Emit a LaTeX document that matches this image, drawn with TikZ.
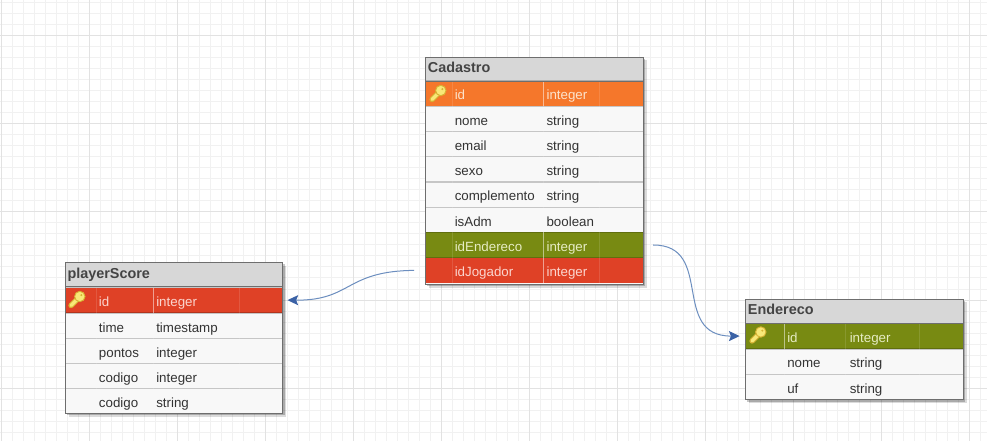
\documentclass[tikz,border=0pt]{standalone}
\usepackage{fontspec}
\setmainfont{Liberation Sans}
\usetikzlibrary{arrows.meta, shadows}

\definecolor{gridminor}{HTML}{F1F1F1}
\definecolor{gridmajor}{HTML}{E2E2E2}
\definecolor{framegray}{HTML}{6E6E6E}
\definecolor{headgray}{HTML}{D7D7D7}
\definecolor{headink}{HTML}{444444}
\definecolor{plainrow}{HTML}{F8F8F8}
\definecolor{plainink}{HTML}{333333}
\definecolor{orangerow}{HTML}{F5772B}
\definecolor{orangeink}{HTML}{FCE3CC}
\definecolor{olivrow}{HTML}{788A12}
\definecolor{olivink}{HTML}{E6ECC4}
\definecolor{redrow}{HTML}{DF4126}
\definecolor{redink}{HTML}{FBD5CE}
\definecolor{linkline}{HTML}{6C8EBF}
\definecolor{linktip}{HTML}{3B62A6}
\definecolor{keyfill}{HTML}{F8E878}
\definecolor{keyedge}{HTML}{D6B233}

\tikzset{
  tablebox/.style={anchor=north west, draw=framegray, fill=plainrow, line width=0.7pt,
    minimum width=163.2pt, inner sep=0pt, outer sep=0pt,
    drop shadow={shadow xshift=2.6pt, shadow yshift=-2.6pt, opacity=0.14, fill=black},
    drop shadow={shadow xshift=1.4pt, shadow yshift=-1.4pt, opacity=0.22, fill=black}},
  headbox/.style={anchor=north west, fill=headgray, text=headink, font=\bfseries\fontsize{10.8}{12}\selectfont,
    minimum width=163.2pt, text width=159.7pt, minimum height=18.2pt, text height=8pt, text depth=2.7pt,
    inner xsep=1.75pt, inner ysep=0pt, outer sep=0pt},
  rowbox/.style={anchor=north west, minimum width=163.2pt, minimum height=18.9pt, inner sep=0pt, outer sep=0pt},
  celltext/.style={anchor=base west, inner sep=0pt, font=\fontsize{10}{12}\selectfont},
  rowline/.style={draw=black, opacity=0.2, line width=0.9pt},
  colfaint/.style={draw=white, opacity=0.12, line width=0.6pt},
  colbright/.style={draw=white, opacity=0.5, line width=0.6pt},
  frameline/.style={draw=framegray, line width=0.7pt},
  link/.style={draw=linkline, line width=0.75pt,
    -{Stealth[length=8pt, width=7.5pt, inset=1.5pt, color=linktip, fill=linktip]}},
  keyicon/.pic={
    \draw[keyedge, line width=4pt, line cap=round] (-5.5,6) -- (3,-2.5);
    \draw[keyfill, line width=2.6pt, line cap=round] (-5.5,6) -- (3,-2.5);
    \draw[keyedge, fill=keyfill, line width=0.7pt] (3.3,-3) circle (5.2);
    \fill[keyedge] (4.8,-4.4) circle (1.1);
  }
}

\begin{document}
\begin{tikzpicture}[x=0.75pt, y=-0.75pt]
  \useasboundingbox (0,0) rectangle (987,441);
  % background grid
  \begin{scope}
    \clip (0,0) rectangle (987,441);
    \fill[white] (0,0) rectangle (987,441);
    \begin{scope}[shift={(1,3)}]
      \draw[gridminor, line width=0.75pt, xstep=8.25pt, ystep=8.25pt] (-1,438) grid (986,-3);
    \end{scope}
    \begin{scope}[shift={(1,36)}]
      \draw[gridmajor, line width=0.75pt, xstep=66pt, ystep=66pt] (-1,405) grid (986,-36);
    \end{scope}
  \end{scope}

  % Cadastro
  \node[tablebox, minimum height=170.4pt] (cadastro) at (425.6,57) {};
  \node[headbox] (cadHead) at (425.6,57) {Cadastro};
  \foreach \rowname/\top/\field/\ftype/\shade/\ink in {
      cadId/81/id/integer/orangerow/orangeink,
      cadNome/106.3/nome/string/plainrow/plainink,
      cadEmail/131.5/email/string/plainrow/plainink,
      cadSexo/156.8/sexo/string/plainrow/plainink,
      cadCompl/182/complemento/string/plainrow/plainink,
      cadAdm/207.2/isAdm/boolean/plainrow/plainink,
      cadEndereco/232.4/idEndereco/integer/olivrow/olivink,
      cadJogador/257.7/idJogador/integer/redrow/redink} {
    \node[rowbox, fill=\shade] (\rowname) at (425.6,\top) {};
    \draw[rowline] (\rowname.north west) -- (\rowname.north east);
    \node[celltext, text=\ink] (\rowname Field) at (454.5,\top+19) {\field};
    \node[celltext, text=\ink] (\rowname Type) at (546.3,\top+19) {\ftype};
  }
  \draw[colfaint] (452,81) -- (452,284) (543,106) -- (543,232) (599,81) -- (599,284);
  \draw[colbright] (543,81) -- (543,106) (543,232) -- (543,284);
  \draw[frameline] (cadastro.north west) rectangle (cadastro.south east);
  \draw[frameline] (cadHead.south west) -- (cadHead.south east);
  \pic at (437.5,93.5) {keyicon};

  % playerScore
  \node[tablebox, minimum height=113.3pt] (score) at (65.2,262.5) {};
  \node[headbox] (scoreHead) at (65.2,262.5) {playerScore};
  \foreach \rowname/\top/\field/\ftype/\shade/\ink in {
      scoreId/287.5/id/integer/redrow/redink,
      scoreTime/313/time/timestamp/plainrow/plainink,
      scorePontos/338.2/pontos/integer/plainrow/plainink,
      scoreCodigo/363.5/codigo/integer/plainrow/plainink,
      scoreCodigoB/388.7/codigo/string/plainrow/plainink} {
    \node[rowbox, fill=\shade] (\rowname) at (65.2,\top) {};
    \draw[rowline] (\rowname.north west) -- (\rowname.north east);
    \node[celltext, text=\ink] (\rowname Field) at (98.7,\top+19) {\field};
    \node[celltext, text=\ink] (\rowname Type) at (156,\top+19) {\ftype};
  }
  \draw[colfaint] (96,288) -- (96,414) (153,313) -- (153,414) (239,288) -- (239,414);
  \draw[colbright] (153,288) -- (153,313);
  \draw[frameline] (score.north west) rectangle (score.south east);
  \draw[frameline] (scoreHead.south west) -- (scoreHead.south east);
  \pic at (76.5,299.5) {keyicon};

  % Endereco
  \node[tablebox, minimum height=75.6pt] (endereco) at (745.6,299) {};
  \node[headbox] (endHead) at (745.6,299) {Endereco};
  \foreach \rowname/\top/\field/\ftype/\shade/\ink in {
      endId/323.5/id/integer/olivrow/olivink,
      endNome/348.9/nome/string/plainrow/plainink,
      endUf/374.1/uf/string/plainrow/plainink} {
    \node[rowbox, fill=\shade] (\rowname) at (745.6,\top) {};
    \draw[rowline] (\rowname.north west) -- (\rowname.north east);
    \node[celltext, text=\ink] (\rowname Field) at (787,\top+19) {\field};
    \node[celltext, text=\ink] (\rowname Type) at (849.5,\top+19) {\ftype};
  }
  \draw[colfaint] (784,349) -- (784,400) (845,324) -- (845,400) (919,324) -- (919,400);
  \draw[colbright] (784,324) -- (784,349);
  \draw[frameline] (endereco.north west) rectangle (endereco.south east);
  \draw[frameline] (endHead.south west) -- (endHead.south east);
  \pic at (757.5,335) {keyicon};

  % links between the tables
  \draw[link, shorten <=8.6pt, shorten >=3.5pt]
    (cadJogador.west) .. controls (345,271) and (352,300.5) .. (scoreId.east);
  \draw[link, shorten <=7.5pt, shorten >=4.5pt]
    (cadEndereco.east) .. controls (715,245) and (670,336) .. (endId.west);
\end{tikzpicture}
\end{document}
